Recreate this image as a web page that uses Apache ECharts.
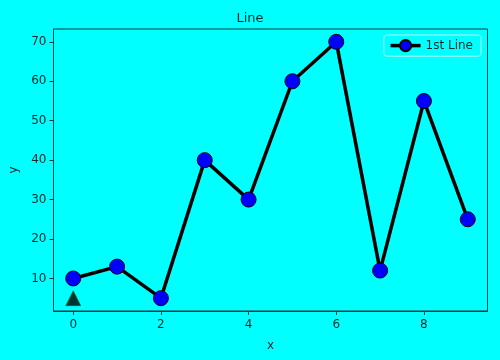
<!DOCTYPE html>
<html><head><meta charset="utf-8">
<script src="https://cdn.jsdelivr.net/npm/echarts@6/dist/echarts.min.js"></script>
<style>html,body{margin:0;padding:0;background:#00ffff}#c{width:500px;height:360px}</style>
</head><body><div id="c"></div>
<script>
const xValues = [0,1,2,3,4,5,6,7,8,9];
const yValues = [10,13,5,40,30,60,70,12,55,25];
const markerPoint = [[0,5]];
const xTicks = [0,2,4,6,8];
const yTicks = [10,20,30,40,50,60,70];
const seriesName = '1st Line';

const chart = echarts.init(document.getElementById('c'), null, {renderer:'canvas'});
const txt = '#0b2b2b';
const axisCol = '#0a3c3c';
const font = 'DejaVu Sans';
chart.setOption({
  backgroundColor: '#00ffff',
  animation: false,
  title: {text:'Line', left:'center', top:7, textStyle:{fontFamily:font, fontSize:13, fontWeight:'normal', color:txt}},
  legend: {
    data:[seriesName], right:19, top:35, orient:'vertical',
    itemWidth:30, itemHeight:14, itemGap:4,
    padding:[4,8,4,5],
    borderColor:'rgba(200,240,240,0.9)', borderWidth:1, borderRadius:3,
    backgroundColor:'rgba(0,255,255,0.8)',
    lineStyle:{width:3.5, color:'#000'},
    textStyle:{fontFamily:font, fontSize:12, color:txt}
  },
  grid: {left:53.5, top:29, right:12.5, bottom:49, show:true, borderColor:axisCol, borderWidth:1, containLabel:false, outerBoundsMode:'none'},
  xAxis: {
    type:'value', min:-0.45, max:9.45, name:'x', nameLocation:'middle', nameGap:29,
    nameTextStyle:{fontFamily:font, fontSize:12, color:txt},
    axisLine:{show:true, onZero:false, lineStyle:{color:axisCol}},
    splitLine:{show:false},
    axisTick:{show:true, length:4, lineStyle:{color:axisCol}, customValues:xTicks},
    axisLabel:{fontFamily:font, fontSize:12, color:txt, margin:8, customValues:xTicks}
  },
  yAxis: {
    type:'value', min:1.75, max:73.25, name:'y', nameLocation:'middle', nameGap:34,
    nameTextStyle:{fontFamily:font, fontSize:12, color:txt},
    axisLine:{show:true, onZero:false, lineStyle:{color:axisCol}},
    splitLine:{show:false},
    axisTick:{show:true, length:4, lineStyle:{color:axisCol}, customValues:yTicks},
    axisLabel:{fontFamily:font, fontSize:12, color:txt, margin:7, customValues:yTicks}
  },
  series: [
    {
      name: seriesName, type:'line',
      data: xValues.map((x,i)=>[x,yValues[i]]),
      lineStyle:{color:'#000', width:3.5},
      symbol:'circle', symbolSize:15,
      itemStyle:{color:'#0000ff', borderColor:'#000', borderWidth:1},
      z:3
    },
    {
      name:'marker', type:'scatter', data: markerPoint,
      symbol:'triangle', symbolSize:[15,15],
      itemStyle:{color:'#000', borderColor:'#007000', borderWidth:0.7},
      z:4
    }
  ]
});
</script></body></html>
